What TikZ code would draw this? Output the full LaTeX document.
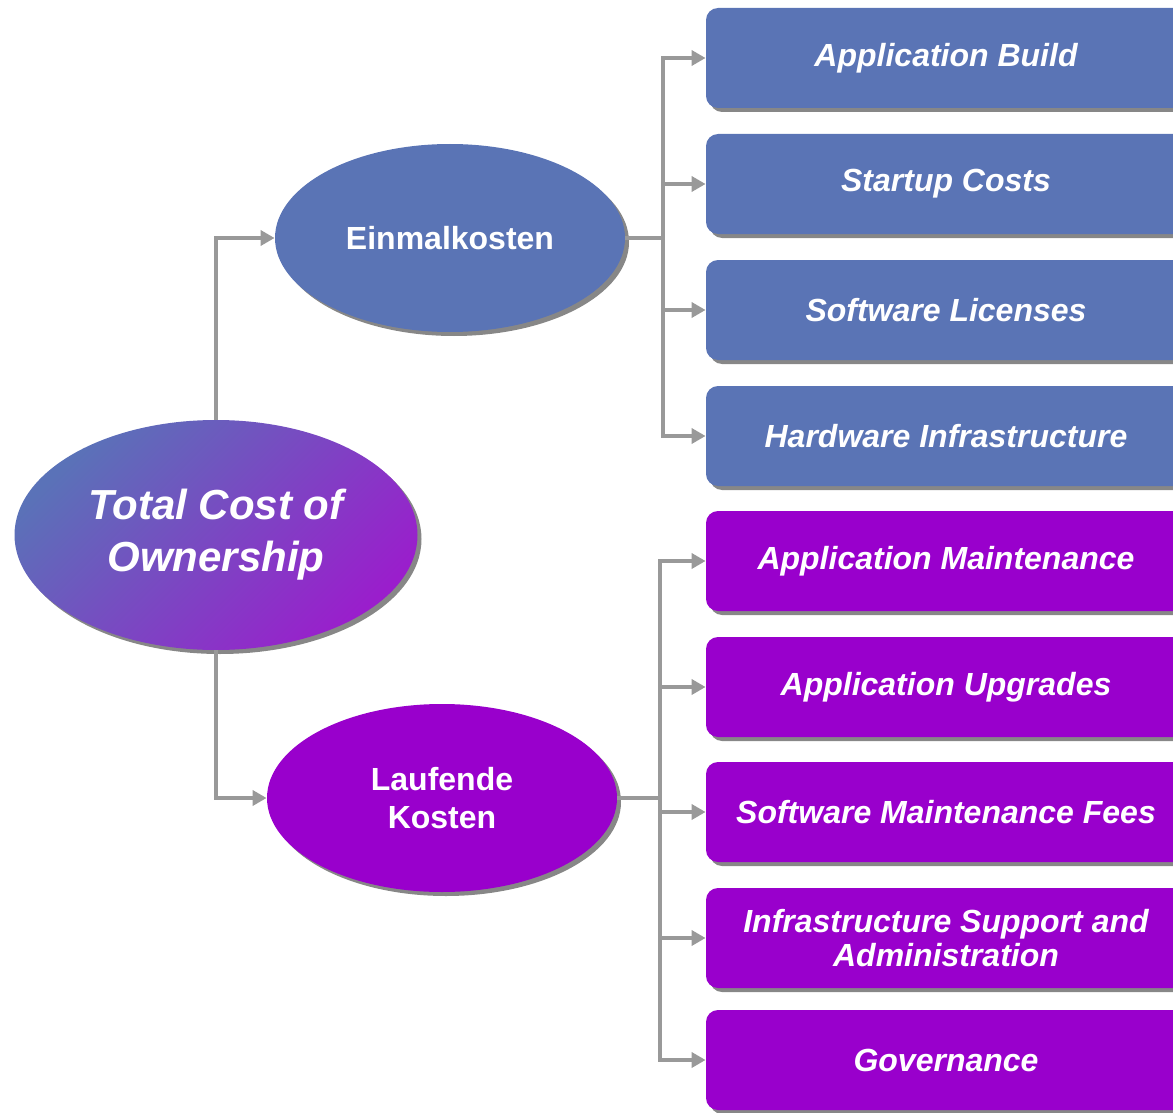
\documentclass[tikz,border=0pt]{standalone}
\usepackage{fontspec}
\setmainfont{Liberation Sans}
\usetikzlibrary{shapes.geometric,shadows,arrows.meta}
\definecolor{bluebox}{HTML}{5A74B5}
\definecolor{purplebox}{HTML}{9900CC}
\definecolor{gradA}{HTML}{5A72B8}
\definecolor{gradB}{HTML}{9A1ECC}
\definecolor{shadowgray}{HTML}{878787}
\definecolor{conngray}{HTML}{999999}
\tikzset{
  shadowed/.style={drop shadow={shadow xshift=2pt,shadow yshift=-2pt,fill=shadowgray,opacity=1}},
  leafbox/.style={shadowed,rounded corners=6pt,minimum width=240pt,minimum height=50pt,inner sep=0pt,
    text=white,font=\fontsize{16}{17}\selectfont\bfseries\itshape,align=center},
  bluebx/.style={leafbox,fill=bluebox},
  purplebx/.style={leafbox,fill=purplebox},
  midell/.style={shadowed,ellipse,minimum width=175pt,minimum height=94pt,inner sep=0pt,
    text=white,font=\fontsize{16}{19}\selectfont\bfseries,align=center},
  conn/.style={draw=conngray,line width=2pt,-{Triangle[length=7pt,width=7.5pt]}},
  trunk/.style={draw=conngray,line width=2pt}
}
\begin{document}
\begin{tikzpicture}[x=0.5pt,y=-0.5pt]
\useasboundingbox (0,0) rectangle (1173,1113);
\clip (0,0) rectangle (1173,1113);
% root
\node[shadowed,ellipse,minimum width=201.5pt,minimum height=115pt,inner sep=0pt,
  top color=gradA,bottom color=gradB,shading angle=45,
  text=white,font=\fontsize{21}{26}\selectfont\bfseries\itshape,align=center]
  (T) at (216,535) {Total Cost of\\Ownership};
% middle
\node[midell,fill=bluebox] (E) at (450,238) {Einmalkosten};
\node[midell,fill=purplebox] (L) at (442,798) {Laufende\\Kosten};
% leaves
\node[bluebx] (b1) at (946,58) {Application Build};
\node[bluebx] (b2) at (946,184) {Startup Costs};
\node[bluebx] (b3) at (946,310) {Software Licenses};
\node[bluebx] (b4) at (946,436) {Hardware Infrastructure};
\node[purplebx] (p1) at (946,561) {Application Maintenance};
\node[purplebx] (p2) at (946,687) {Application Upgrades};
\node[purplebx] (p3) at (946,812) {Software Maintenance Fees};
\node[purplebx] (p4) at (946,938) {Infrastructure Support and\\Administration};
\node[purplebx] (p5) at (946,1060) {Governance};
% junctions
\coordinate (jE) at (663,238);
\coordinate (jL) at (660,798);
% connectors
\draw[conn] (T.north) |- (E.west);
\draw[conn] (T.south) |- (L.west);
\draw[trunk] (E.east) -- (jE);
\draw[trunk] (L.east) -- (jL);
\foreach \b in {b1,b2,b3,b4}{\draw[conn] (jE) |- (\b.west);}
\foreach \p in {p1,p2,p3,p4,p5}{\draw[conn] (jL) |- (\p.west);}
\end{tikzpicture}
\end{document}
